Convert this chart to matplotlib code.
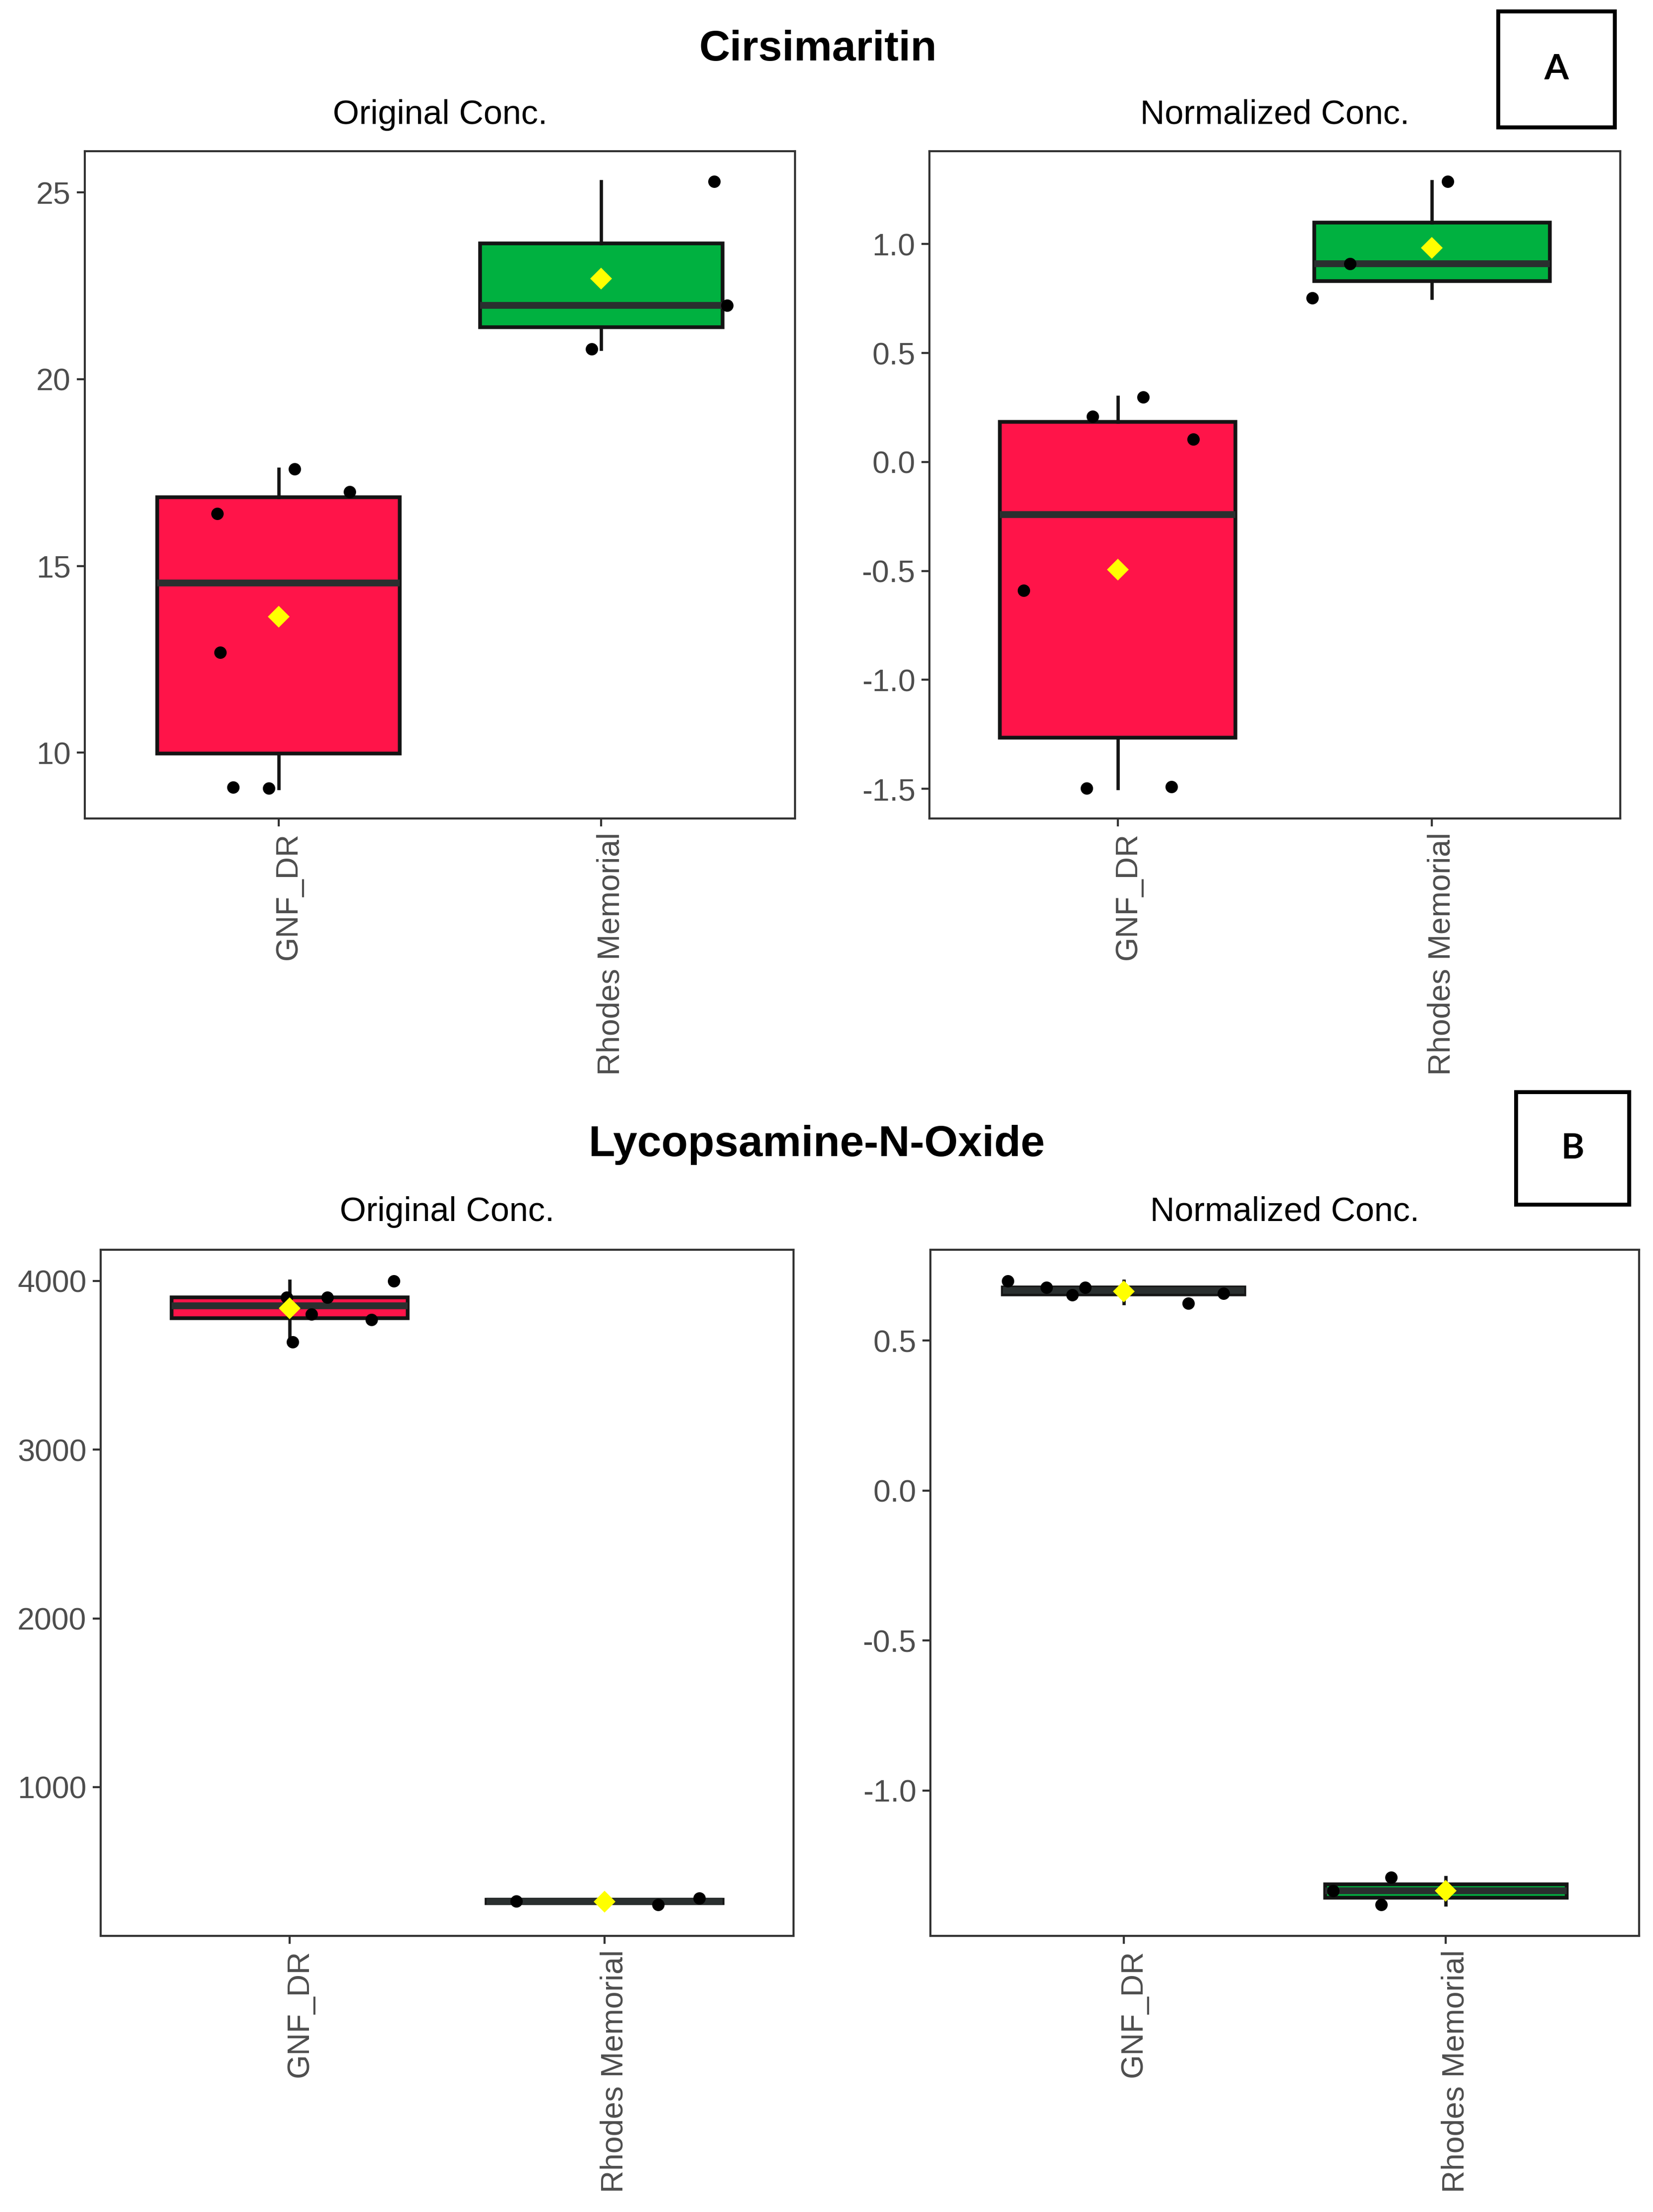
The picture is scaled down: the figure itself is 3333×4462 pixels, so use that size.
import numpy as np
import matplotlib
matplotlib.use('Agg')
import matplotlib.pyplot as plt
from matplotlib.patches import Rectangle
from matplotlib.ticker import FormatStrFormatter

plt.rcParams['font.family'] = ['Liberation Sans', 'DejaVu Sans']
plt.rcParams['axes.unicode_minus'] = False

groups = ['GNF_DR', 'Rhodes Memorial']
group_colors = ['#FF1449', '#00B140']

# Cirsimaritin - original
cirs_orig_gnf = [9.08, 9.05, 12.69, 16.40, 17.60, 16.98]
cirs_orig_gnf_jit = [-0.14, -0.03, -0.18, -0.19, 0.05, 0.22]
cirs_orig_rho = [20.81, 25.29, 21.98]
cirs_orig_rho_jit = [-0.03, 0.35, 0.39]
cirs_orig_ticks = [10, 15, 20, 25]

# Cirsimaritin - normalized
cirs_norm_gnf = [-0.589, -1.497, -1.490, 0.210, 0.298, 0.104]
cirs_norm_gnf_jit = [-0.30, -0.10, 0.17, -0.08, 0.08, 0.24]
cirs_norm_rho = [0.752, 0.910, 1.287]
cirs_norm_rho_jit = [-0.38, -0.26, 0.05]
cirs_norm_ticks = [-1.5, -1.0, -0.5, 0.0, 0.5, 1.0]

# Lycopsamine-N-Oxide - original
lyco_orig_gnf = [3903, 3639, 3804, 3903, 3771, 4000]
lyco_orig_gnf_jit = [-0.01, 0.01, 0.07, 0.12, 0.26, 0.33]
lyco_orig_rho = [323, 303, 340]
lyco_orig_rho_jit = [-0.28, 0.17, 0.30]
lyco_orig_ticks = [1000, 2000, 3000, 4000]

# Lycopsamine-N-Oxide - normalized
lyco_norm_gnf = [0.699, 0.677, 0.652, 0.677, 0.624, 0.658]
lyco_norm_gnf_jit = [-0.36, -0.24, -0.16, -0.12, 0.20, 0.31]
lyco_norm_rho = [-1.335, -1.381, -1.290]
lyco_norm_rho_jit = [-0.35, -0.20, -0.17]
lyco_norm_ticks = [-1.0, -0.5, 0.0, 0.5]

W, H = 3333, 4462
fig = plt.figure(figsize=(W / 300, H / 300), dpi=300)


def px_rect(x0, y0, x1, y1):
    return [x0 / W, 1 - y1 / H, (x1 - x0) / W, (y1 - y0) / H]


def draw_panel(rect, gnf, gnf_jit, rho, rho_jit, yticks, fmt, subtitle, tpad):
    ax = fig.add_axes(px_rect(*rect))
    bp = ax.boxplot([gnf, rho], positions=[1, 2], widths=0.75, patch_artist=True,
                    showcaps=False, showfliers=False,
                    boxprops=dict(linewidth=1.8, edgecolor='#141414'),
                    whiskerprops=dict(linewidth=1.6, color='#141414'),
                    medianprops=dict(linewidth=3.3, color='#2a2f2f'))
    for patch, c in zip(bp['boxes'], group_colors):
        patch.set_facecolor(c)
        patch.set_zorder(2)

    for pos, vals, jit in [(1, gnf, gnf_jit), (2, rho, rho_jit)]:
        ax.plot(pos + np.array(jit), vals, 'o', color='black', ms=6, mew=0, zorder=3)
        ax.plot(pos, np.mean(vals), 'D', color='#FFFF00', ms=7.3, mew=0, zorder=4)

    allv = np.concatenate([gnf, rho])
    span = allv.max() - allv.min()
    ax.set_ylim(allv.min() - 0.05 * span, allv.max() + 0.05 * span)
    ax.set_xlim(0.4, 2.6)
    ax.set_yticks(yticks)
    ax.yaxis.set_major_formatter(FormatStrFormatter(fmt))
    ax.set_xticks([1, 2])
    ax.set_xticklabels([])
    # rotated group labels, nudged right like the ggplot output
    for pos, g in zip([1, 2], groups):
        ax.annotate(g, xy=(pos, 0), xycoords=('data', 'axes fraction'),
                    xytext=(4.8, -6.8), textcoords='offset points',
                    rotation=90, ha='center', va='top', fontsize=15, color='#4D4D4D')

    ax.tick_params(direction='out', length=3.8, width=1.0, color='#333333',
                   labelcolor='#4D4D4D', labelsize=15, pad=3)
    for s in ax.spines.values():
        s.set_color('#333333')
        s.set_linewidth(1.0)
    ax.set_title(subtitle, fontsize=16.4, pad=tpad, color='black')
    return ax


draw_panel((171, 305, 1603, 1651), cirs_orig_gnf, cirs_orig_gnf_jit, cirs_orig_rho,
           cirs_orig_rho_jit, cirs_orig_ticks, '%d', 'Original Conc.', 13.3)
draw_panel((1874, 305, 3267, 1651), cirs_norm_gnf, cirs_norm_gnf_jit, cirs_norm_rho,
           cirs_norm_rho_jit, cirs_norm_ticks, '%.1f', 'Normalized Conc.', 13.3)
draw_panel((203, 2521, 1600, 3905), lyco_orig_gnf, lyco_orig_gnf_jit, lyco_orig_rho,
           lyco_orig_rho_jit, lyco_orig_ticks, '%d', 'Original Conc.', 14)
draw_panel((1876, 2521, 3305, 3905), lyco_norm_gnf, lyco_norm_gnf_jit, lyco_norm_rho,
           lyco_norm_rho_jit, lyco_norm_ticks, '%.1f', 'Normalized Conc.', 14)

# main titles
fig.text(1649 / W, 1 - 122 / H, 'Cirsimaritin', ha='center', va='baseline',
         fontsize=20.7, fontweight='bold')
fig.text(1646 / W, 1 - 2332 / H, 'Lycopsamine-N-Oxide', ha='center', va='baseline',
         fontsize=21, fontweight='bold')

# panel letters
for letter, (x0, y0, x1, y1) in [('A', (3021, 23, 3256, 257)), ('B', (3057, 2203, 3285, 2430))]:
    r = px_rect(x0, y0, x1, y1)
    fig.add_artist(Rectangle((r[0], r[1]), r[2], r[3], transform=fig.transFigure,
                             fill=False, edgecolor='black', linewidth=1.9))
    fig.text(r[0] + r[2] / 2, r[1] + r[3] / 2, letter, ha='center', va='center',
             fontsize=17, fontweight='bold', family=['Lato', 'DejaVu Sans'])

fig.savefig('out.png', dpi=300, facecolor='white')
